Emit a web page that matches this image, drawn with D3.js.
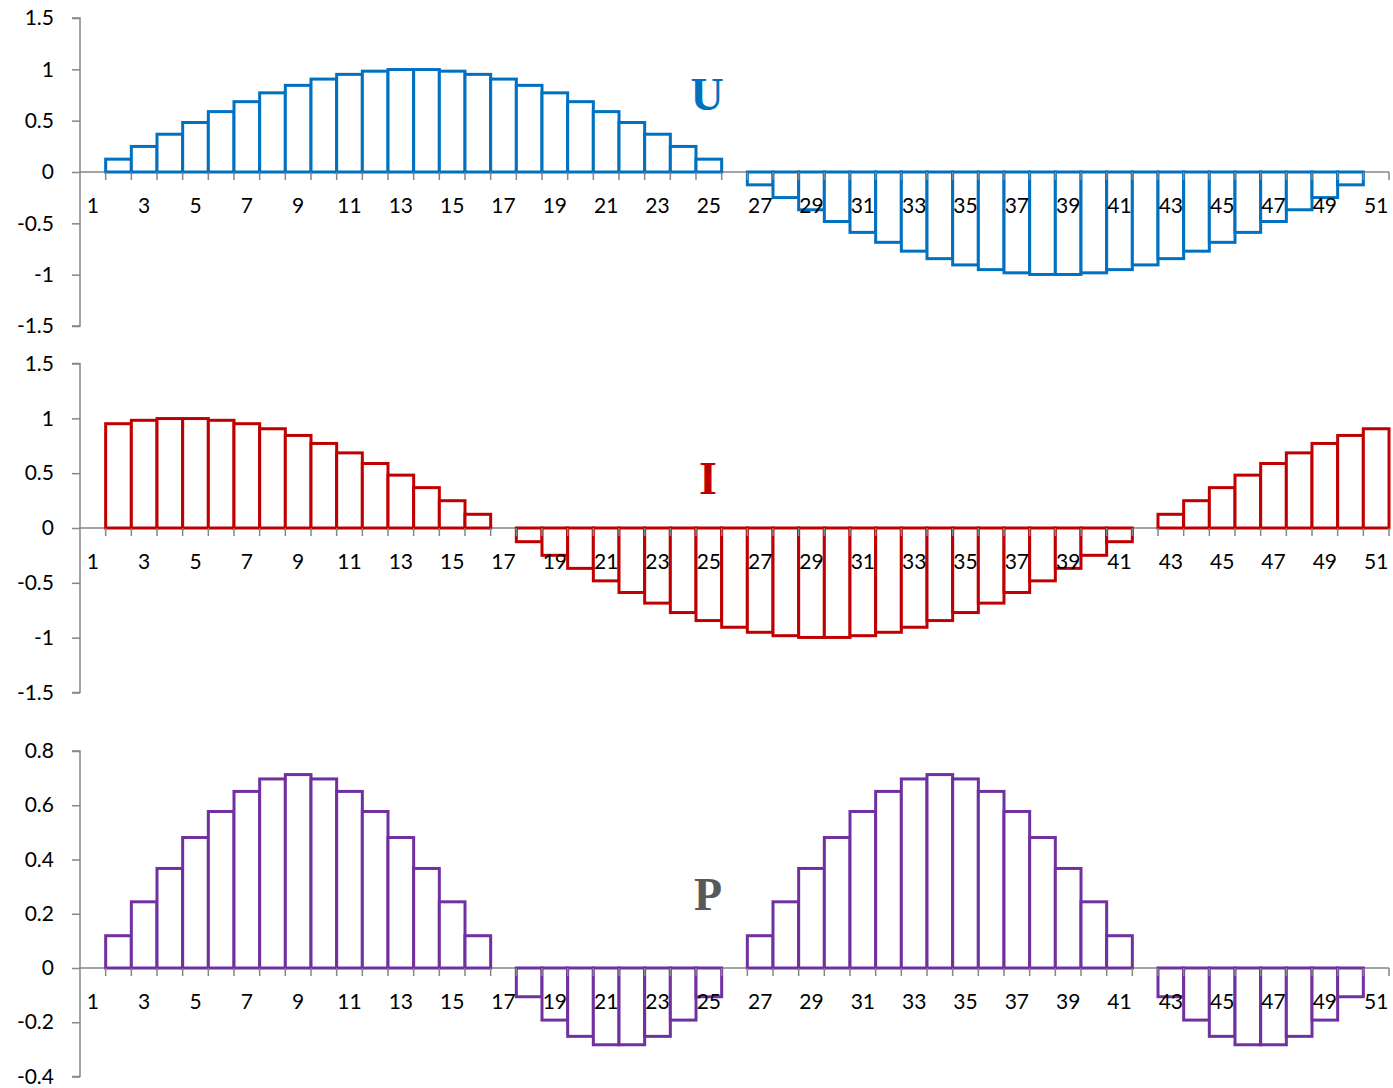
<!DOCTYPE html>
<html>
<head>
<meta charset="utf-8">
<script src="https://cdn.jsdelivr.net/npm/d3@7"></script>
<style>
  html, body { margin: 0; padding: 0; background: #fff; }
  svg { display: block; }
  .tick-label { font-family: Lato, "Open Sans", sans-serif; font-size: 21px; fill: #000; }
  .title { font-family: "Liberation Serif", "DejaVu Serif", serif; font-weight: bold; font-size: 46px; }
</style>
</head>
<body>
<script>
// Categories along the shared time axis
const categories = [1,2,3,4,5,6,7,8,9,10,11,12,13,14,15,16,17,18,19,20,21,22,23,24,25,26,
  27,28,29,30,31,32,33,34,35,36,37,38,39,40,41,42,43,44,45,46,47,48,49,50,51];

// Voltage samples
const uValues = [0, 0.125, 0.249, 0.368, 0.482, 0.588, 0.685, 0.771, 0.844, 0.905, 0.951, 0.982, 0.998,
  0.998, 0.982, 0.951, 0.905, 0.844, 0.771, 0.685, 0.588, 0.482, 0.368, 0.249, 0.125, 0,
  -0.125, -0.249, -0.368, -0.482, -0.588, -0.685, -0.771, -0.844, -0.905, -0.951, -0.982, -0.998,
  -0.998, -0.982, -0.951, -0.905, -0.844, -0.771, -0.685, -0.588, -0.482, -0.368, -0.249, -0.125, 0];

// Current samples (first sample empty)
const iValues = [null, 0.951, 0.982, 0.998, 0.998, 0.982, 0.951, 0.905, 0.844, 0.771, 0.685, 0.588,
  0.482, 0.368, 0.249, 0.125, 0,
  -0.125, -0.249, -0.368, -0.482, -0.588, -0.685, -0.771, -0.844, -0.905, -0.951, -0.982, -0.998,
  -0.998, -0.982, -0.951, -0.905, -0.844, -0.771, -0.685, -0.588, -0.482, -0.368, -0.249, -0.125, 0,
  0.125, 0.249, 0.368, 0.482, 0.588, 0.685, 0.771, 0.844, 0.905];

// Instantaneous power samples
const pValues = [0, 0.119, 0.244, 0.367, 0.481, 0.577, 0.651, 0.697, 0.713, 0.697, 0.651, 0.577, 0.481,
  0.367, 0.244, 0.119, 0, -0.106, -0.192, -0.252, -0.283, -0.283, -0.252, -0.192, -0.106, 0,
  0.119, 0.244, 0.367, 0.481, 0.577, 0.651, 0.697, 0.713, 0.697, 0.651, 0.577, 0.481,
  0.367, 0.244, 0.119, 0, -0.106, -0.192, -0.252, -0.283, -0.283, -0.252, -0.192, -0.106, 0];

// Tick values / labels
const uTicks = [-1.5, -1, -0.5, 0, 0.5, 1, 1.5];
const iTicks = [-1.5, -1, -0.5, 0, 0.5, 1, 1.5];
const pTicks = [-0.4, -0.2, 0, 0.2, 0.4, 0.6, 0.8];
const xLabels = categories.filter(c => c % 2 === 1);
const titles = ["U", "I", "P"];

const W = 1393, H = 1088;
const svg = d3.select("body").append("svg").attr("width", W).attr("height", H);

const axisColor = "#868686";
const x = d3.scaleBand().domain(categories).range([80, 1389]).padding(0);

const panels = [
  { values: uValues, ticks: uTicks, domain: [-1.5, 1.5], range: [326, 18], color: "#0070C0",
    title: titles[0], titleColor: "#0070C0", titleX: 707, titleY: 110 },
  { values: iValues, ticks: iTicks, domain: [-1.5, 1.5], range: [692.5, 363.5], color: "#C00000",
    title: titles[1], titleColor: "#C00000", titleX: 708, titleY: 494 },
  { values: pValues, ticks: pTicks, domain: [-0.4, 0.8], range: [1076.5, 751], color: "#7030A0",
    title: titles[2], titleColor: "#595959", titleX: 708, titleY: 910 }
];

const fmt = d => String(d);

panels.forEach(p => {
  const y = d3.scaleLinear().domain(p.domain).range(p.range);
  const g = svg.append("g");
  const y0 = y(0);

  // value axis
  const yAxis = d3.axisLeft(y).tickValues(p.ticks).tickFormat(fmt).tickSize(8).tickPadding(18);
  const ya = g.append("g").attr("transform", "translate(80,0)").call(yAxis);
  ya.select(".domain").attr("stroke", axisColor).attr("stroke-width", 1.5)
    .attr("d", `M-8,${p.range[1]}H0V${p.range[0]}H-8`);
  ya.selectAll(".tick line").attr("stroke", axisColor).attr("stroke-width", 1.5);
  ya.selectAll(".tick text").attr("class", "tick-label").attr("fill", "#000");

  // zero line
  g.append("line").attr("x1", 80).attr("x2", 1389).attr("y1", y0).attr("y2", y0)
    .attr("stroke", axisColor).attr("stroke-width", 1.5);

  // bars
  const data = categories.map((c, i) => ({ c, v: p.values[i] })).filter(d => d.v !== null && d.v !== 0);
  g.append("g").selectAll("rect").data(data).join("rect")
    .attr("x", d => x(d.c))
    .attr("width", x.bandwidth())
    .attr("y", d => Math.min(y(d.v), y0))
    .attr("height", d => Math.abs(y(d.v) - y0))
    .attr("fill", "#fff")
    .attr("stroke", p.color)
    .attr("stroke-width", 3);

  // category ticks at band boundaries
  const bounds = categories.map(c => x(c) + x.bandwidth());
  g.append("g").selectAll("line").data(bounds).join("line")
    .attr("x1", d => d).attr("x2", d => d)
    .attr("y1", y0).attr("y2", y0 + 8)
    .attr("stroke", axisColor).attr("stroke-width", 1.5);

  // category labels
  g.append("g").selectAll("text").data(xLabels).join("text")
    .attr("class", "tick-label")
    .attr("x", d => x(d) + x.bandwidth() / 2)
    .attr("y", y0 + 41)
    .attr("text-anchor", "middle")
    .text(d => d);

  // panel title
  g.append("text").attr("class", "title")
    .attr("x", p.titleX).attr("y", p.titleY)
    .attr("text-anchor", "middle")
    .attr("fill", p.titleColor)
    .text(p.title);
});
</script>
</body>
</html>
